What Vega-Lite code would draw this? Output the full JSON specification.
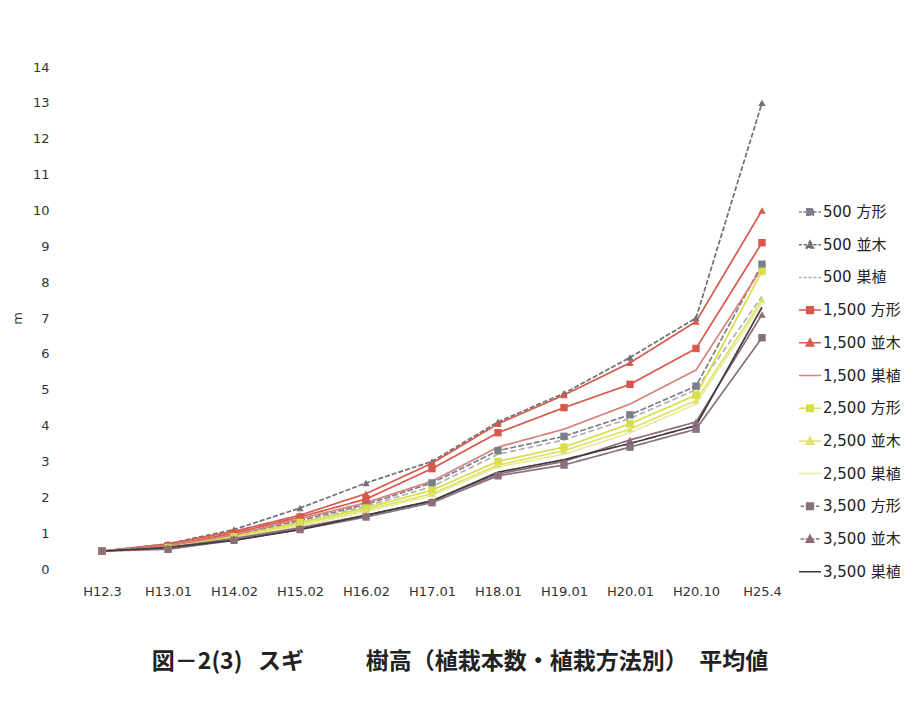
{
  "$schema": "https://vega.github.io/schema/vega-lite/v6.json",
  "autosize": "none",
  "width": 726,
  "height": 502,
  "padding": {"left": 69, "top": 67, "right": 127, "bottom": 133},
  "background": "white",
  "config": {
    "view": {"stroke": null},
    "font": "DejaVu Sans",
    "axis": {"labelFont": "DejaVu Sans", "labelColor": "#333", "labelFontSize": 13, "domain": false, "ticks": false, "grid": false}
  },
  "title": {
    "text": "図－2(3)\u00a0\u00a0\u00a0スギ　　\u00a0\u00a0\u00a0樹高（植栽本数・植栽方法別）　平均値",
    "orient": "bottom",
    "anchor": "middle",
    "font": "Noto Sans CJK JP",
    "fontWeight": "bold",
    "fontSize": 23,
    "color": "#222",
    "offset": 53,
    "dx": 28
  },
  "data": {"values": [
    {"d": "H12.3", "s": "500 方形", "v": 0.5}, {"d": "H13.01", "s": "500 方形", "v": 0.65}, {"d": "H14.02", "s": "500 方形", "v": 0.95}, {"d": "H15.02", "s": "500 方形", "v": 1.35}, {"d": "H16.02", "s": "500 方形", "v": 1.8}, {"d": "H17.01", "s": "500 方形", "v": 2.4}, {"d": "H18.01", "s": "500 方形", "v": 3.3}, {"d": "H19.01", "s": "500 方形", "v": 3.7}, {"d": "H20.01", "s": "500 方形", "v": 4.3}, {"d": "H20.10", "s": "500 方形", "v": 5.1}, {"d": "H25.4", "s": "500 方形", "v": 8.5},
    {"d": "H12.3", "s": "500 並木", "v": 0.5}, {"d": "H13.01", "s": "500 並木", "v": 0.7}, {"d": "H14.02", "s": "500 並木", "v": 1.1}, {"d": "H15.02", "s": "500 並木", "v": 1.7}, {"d": "H16.02", "s": "500 並木", "v": 2.4}, {"d": "H17.01", "s": "500 並木", "v": 3.0}, {"d": "H18.01", "s": "500 並木", "v": 4.1}, {"d": "H19.01", "s": "500 並木", "v": 4.9}, {"d": "H20.01", "s": "500 並木", "v": 5.9}, {"d": "H20.10", "s": "500 並木", "v": 7.0}, {"d": "H25.4", "s": "500 並木", "v": 13.0},
    {"d": "H12.3", "s": "500 巣植", "v": 0.5}, {"d": "H13.01", "s": "500 巣植", "v": 0.65}, {"d": "H14.02", "s": "500 巣植", "v": 0.9}, {"d": "H15.02", "s": "500 巣植", "v": 1.3}, {"d": "H16.02", "s": "500 巣植", "v": 1.75}, {"d": "H17.01", "s": "500 巣植", "v": 2.3}, {"d": "H18.01", "s": "500 巣植", "v": 3.2}, {"d": "H19.01", "s": "500 巣植", "v": 3.6}, {"d": "H20.01", "s": "500 巣植", "v": 4.2}, {"d": "H20.10", "s": "500 巣植", "v": 5.0}, {"d": "H25.4", "s": "500 巣植", "v": 7.6},
    {"d": "H12.3", "s": "1,500 方形", "v": 0.5}, {"d": "H13.01", "s": "1,500 方形", "v": 0.65}, {"d": "H14.02", "s": "1,500 方形", "v": 1.0}, {"d": "H15.02", "s": "1,500 方形", "v": 1.45}, {"d": "H16.02", "s": "1,500 方形", "v": 1.95}, {"d": "H17.01", "s": "1,500 方形", "v": 2.8}, {"d": "H18.01", "s": "1,500 方形", "v": 3.8}, {"d": "H19.01", "s": "1,500 方形", "v": 4.5}, {"d": "H20.01", "s": "1,500 方形", "v": 5.15}, {"d": "H20.10", "s": "1,500 方形", "v": 6.15}, {"d": "H25.4", "s": "1,500 方形", "v": 9.1},
    {"d": "H12.3", "s": "1,500 並木", "v": 0.5}, {"d": "H13.01", "s": "1,500 並木", "v": 0.7}, {"d": "H14.02", "s": "1,500 並木", "v": 1.05}, {"d": "H15.02", "s": "1,500 並木", "v": 1.5}, {"d": "H16.02", "s": "1,500 並木", "v": 2.1}, {"d": "H17.01", "s": "1,500 並木", "v": 2.95}, {"d": "H18.01", "s": "1,500 並木", "v": 4.05}, {"d": "H19.01", "s": "1,500 並木", "v": 4.85}, {"d": "H20.01", "s": "1,500 並木", "v": 5.75}, {"d": "H20.10", "s": "1,500 並木", "v": 6.9}, {"d": "H25.4", "s": "1,500 並木", "v": 10.0},
    {"d": "H12.3", "s": "1,500 巣植", "v": 0.5}, {"d": "H13.01", "s": "1,500 巣植", "v": 0.65}, {"d": "H14.02", "s": "1,500 巣植", "v": 0.95}, {"d": "H15.02", "s": "1,500 巣植", "v": 1.4}, {"d": "H16.02", "s": "1,500 巣植", "v": 1.85}, {"d": "H17.01", "s": "1,500 巣植", "v": 2.45}, {"d": "H18.01", "s": "1,500 巣植", "v": 3.4}, {"d": "H19.01", "s": "1,500 巣植", "v": 3.9}, {"d": "H20.01", "s": "1,500 巣植", "v": 4.6}, {"d": "H20.10", "s": "1,500 巣植", "v": 5.55}, {"d": "H25.4", "s": "1,500 巣植", "v": 8.4},
    {"d": "H12.3", "s": "2,500 方形", "v": 0.5}, {"d": "H13.01", "s": "2,500 方形", "v": 0.6}, {"d": "H14.02", "s": "2,500 方形", "v": 0.9}, {"d": "H15.02", "s": "2,500 方形", "v": 1.3}, {"d": "H16.02", "s": "2,500 方形", "v": 1.7}, {"d": "H17.01", "s": "2,500 方形", "v": 2.2}, {"d": "H18.01", "s": "2,500 方形", "v": 3.0}, {"d": "H19.01", "s": "2,500 方形", "v": 3.4}, {"d": "H20.01", "s": "2,500 方形", "v": 4.05}, {"d": "H20.10", "s": "2,500 方形", "v": 4.85}, {"d": "H25.4", "s": "2,500 方形", "v": 8.3},
    {"d": "H12.3", "s": "2,500 並木", "v": 0.5}, {"d": "H13.01", "s": "2,500 並木", "v": 0.6}, {"d": "H14.02", "s": "2,500 並木", "v": 0.85}, {"d": "H15.02", "s": "2,500 並木", "v": 1.25}, {"d": "H16.02", "s": "2,500 並木", "v": 1.65}, {"d": "H17.01", "s": "2,500 並木", "v": 2.1}, {"d": "H18.01", "s": "2,500 並木", "v": 2.9}, {"d": "H19.01", "s": "2,500 並木", "v": 3.3}, {"d": "H20.01", "s": "2,500 並木", "v": 3.9}, {"d": "H20.10", "s": "2,500 並木", "v": 4.7}, {"d": "H25.4", "s": "2,500 並木", "v": 7.5},
    {"d": "H12.3", "s": "2,500 巣植", "v": 0.5}, {"d": "H13.01", "s": "2,500 巣植", "v": 0.6}, {"d": "H14.02", "s": "2,500 巣植", "v": 0.85}, {"d": "H15.02", "s": "2,500 巣植", "v": 1.2}, {"d": "H16.02", "s": "2,500 巣植", "v": 1.6}, {"d": "H17.01", "s": "2,500 巣植", "v": 2.05}, {"d": "H18.01", "s": "2,500 巣植", "v": 2.85}, {"d": "H19.01", "s": "2,500 巣植", "v": 3.2}, {"d": "H20.01", "s": "2,500 巣植", "v": 3.8}, {"d": "H20.10", "s": "2,500 巣植", "v": 4.6}, {"d": "H25.4", "s": "2,500 巣植", "v": 7.4},
    {"d": "H12.3", "s": "3,500 方形", "v": 0.5}, {"d": "H13.01", "s": "3,500 方形", "v": 0.55}, {"d": "H14.02", "s": "3,500 方形", "v": 0.8}, {"d": "H15.02", "s": "3,500 方形", "v": 1.1}, {"d": "H16.02", "s": "3,500 方形", "v": 1.45}, {"d": "H17.01", "s": "3,500 方形", "v": 1.85}, {"d": "H18.01", "s": "3,500 方形", "v": 2.6}, {"d": "H19.01", "s": "3,500 方形", "v": 2.9}, {"d": "H20.01", "s": "3,500 方形", "v": 3.4}, {"d": "H20.10", "s": "3,500 方形", "v": 3.9}, {"d": "H25.4", "s": "3,500 方形", "v": 6.45},
    {"d": "H12.3", "s": "3,500 並木", "v": 0.5}, {"d": "H13.01", "s": "3,500 並木", "v": 0.6}, {"d": "H14.02", "s": "3,500 並木", "v": 0.85}, {"d": "H15.02", "s": "3,500 並木", "v": 1.15}, {"d": "H16.02", "s": "3,500 並木", "v": 1.5}, {"d": "H17.01", "s": "3,500 並木", "v": 1.9}, {"d": "H18.01", "s": "3,500 並木", "v": 2.65}, {"d": "H19.01", "s": "3,500 並木", "v": 3.0}, {"d": "H20.01", "s": "3,500 並木", "v": 3.6}, {"d": "H20.10", "s": "3,500 並木", "v": 4.1}, {"d": "H25.4", "s": "3,500 並木", "v": 7.1},
    {"d": "H12.3", "s": "3,500 巣植", "v": 0.5}, {"d": "H13.01", "s": "3,500 巣植", "v": 0.6}, {"d": "H14.02", "s": "3,500 巣植", "v": 0.8}, {"d": "H15.02", "s": "3,500 巣植", "v": 1.1}, {"d": "H16.02", "s": "3,500 巣植", "v": 1.5}, {"d": "H17.01", "s": "3,500 巣植", "v": 1.9}, {"d": "H18.01", "s": "3,500 巣植", "v": 2.7}, {"d": "H19.01", "s": "3,500 巣植", "v": 3.05}, {"d": "H20.01", "s": "3,500 巣植", "v": 3.5}, {"d": "H20.10", "s": "3,500 巣植", "v": 4.0}, {"d": "H25.4", "s": "3,500 巣植", "v": 7.3}
  ]},
  "encoding": {
    "x": {
      "field": "d", "type": "ordinal", "sort": null,
      "scale": {"type": "point", "padding": 0.5},
      "axis": {"title": null, "labelAngle": 0, "labelPadding": 16}
    },
    "y": {
      "field": "v", "type": "quantitative",
      "scale": {"domain": [0, 14], "nice": false},
      "axis": {"title": "m", "titleFontSize": 13, "titleFontWeight": "normal", "titleColor": "#333", "titlePadding": 8, "values": [0,1,2,3,4,5,6,7,8,9,10,11,12,13,14], "labelPadding": 20}
    },
    "color": {
      "field": "s", "type": "nominal",
      "scale": {
        "domain": ["500 方形", "500 並木", "500 巣植", "1,500 方形", "1,500 並木", "1,500 巣植", "2,500 方形", "2,500 並木", "2,500 巣植", "3,500 方形", "3,500 並木", "3,500 巣植"],
        "range": ["#7a7f88", "#6f7076", "#b0b0b6", "#d9574c", "#d65a4c", "#d9807a", "#d8de48", "#e0e36a", "#e9ec9e", "#85717f", "#93697a", "#3c3c3c"]
      }
    }
  },
  "layer": [
    {
      "mark": {"type": "line", "strokeWidth": 1.7},
      "encoding": {
        "strokeDash": {
          "field": "s", "type": "nominal", "legend": null,
          "scale": {
            "domain": ["500 方形", "500 並木", "500 巣植", "1,500 方形", "1,500 並木", "1,500 巣植", "2,500 方形", "2,500 並木", "2,500 巣植", "3,500 方形", "3,500 並木", "3,500 巣植"],
            "range": [[6, 2], [5, 2], [6, 3], [1, 0], [1, 0], [1, 0], [1, 0], [1, 0], [1, 0], [1, 0], [1, 0], [1, 0]]
          }
        },
        "color": {
          "field": "s", "type": "nominal",
          "legend": {
            "title": null,
            "orient": "none",
            "legendX": 729,
            "legendY": 133,
            "symbolSize": 484,
            "symbolStrokeWidth": 1.5,
            "rowPadding": 12.7,
            "labelFont": "DejaVu Sans, Noto Sans CJK JP",
            "labelFontSize": 15,
            "labelColor": "#222",
            "labelOffset": 1,
            "encode": {
              "symbols": {
                "update": {
                  "shape": {"signal": "{'500 方形': 'M-1,0H-0.75M-0.6,0H-0.3M0.3,0H0.6M0.75,0H1M-0.3,-0.3H0.3V0.3H-0.3Z', '500 並木': 'M-1,0H-0.75M-0.6,0H-0.3M0.3,0H0.6M0.75,0H1M0,-0.35L0.35,0.3H-0.35Z', '500 巣植': 'M-1,0H-0.75M-0.6,0H-0.3M-0.15,0H0.15M0.3,0H0.6M0.75,0H1', '1,500 方形': 'M-1,0H1M-0.3,-0.3H0.3V0.3H-0.3Z', '1,500 並木': 'M-1,0H1M0,-0.35L0.35,0.3H-0.35Z', '1,500 巣植': 'M-1,0H1', '2,500 方形': 'M-1,0H1M-0.3,-0.3H0.3V0.3H-0.3Z', '2,500 並木': 'M-1,0H1M0,-0.35L0.35,0.3H-0.35Z', '2,500 巣植': 'M-1,0H1', '3,500 方形': 'M-0.85,0H-0.55M-0.4,0H0.4M0.55,0H0.85M-0.3,-0.3H0.3V0.3H-0.3Z', '3,500 並木': 'M-0.85,0H-0.55M-0.4,0H0.4M0.55,0H0.85M0,-0.35L0.35,0.3H-0.35Z', '3,500 巣植': 'M-1,0H1'}[datum.value]"},
                  "fill": {"scale": "color", "field": "value"}
                }
              }
            }
          }
        }
      }
    },
    {
      "transform": [{"filter": "indexof(datum.s, '巣植') < 0"}],
      "mark": {"type": "point", "filled": true, "size": 55, "opacity": 1},
      "encoding": {
        "shape": {
          "field": "s", "type": "nominal", "legend": null,
          "scale": {
            "domain": ["500 方形", "500 並木", "1,500 方形", "1,500 並木", "2,500 方形", "2,500 並木", "3,500 方形", "3,500 並木"],
            "range": ["square", "triangle-up", "square", "triangle-up", "square", "triangle-up", "square", "triangle-up"]
          }
        }
      }
    }
  ]
}
